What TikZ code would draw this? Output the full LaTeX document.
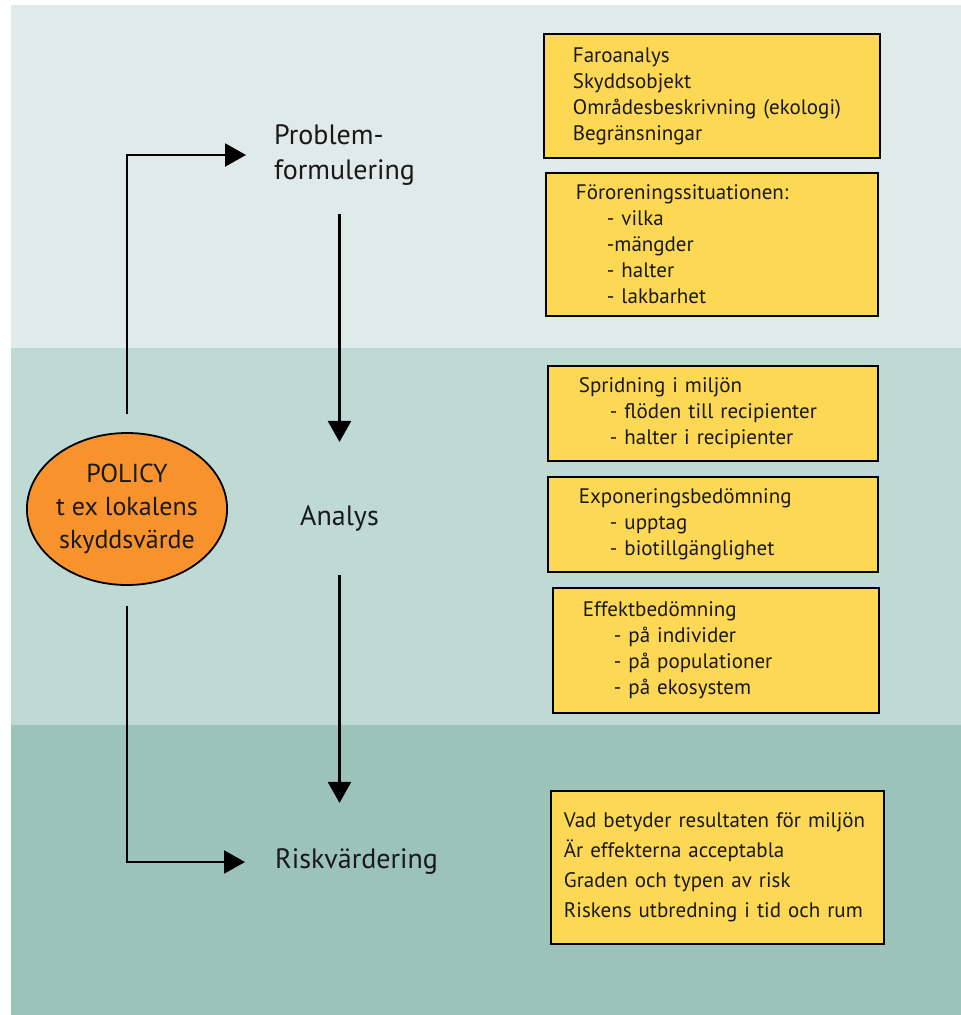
\documentclass[tikz,border=0pt]{standalone}
\usepackage{fontspec}
\setmainfont{PT Sans}
\usetikzlibrary{arrows.meta,shapes.geometric,positioning}

\definecolor{bandtop}{RGB}{223,234,233}
\definecolor{bandmid}{RGB}{191,218,213}
\definecolor{bandlow}{RGB}{156,195,186}
\definecolor{boxfill}{RGB}{253,216,84}
\definecolor{policyfill}{RGB}{247,146,45}
\definecolor{ink}{RGB}{25,25,25}
\newcommand{\dashitem}{\hspace*{31pt}}

\begin{document}
\begin{tikzpicture}[x=1pt,y=-1pt,
   infobox/.style={draw, fill=boxfill, line width=1.8pt, anchor=north west,
                   align=left, inner xsep=30pt, inner ysep=0pt, text=ink,
                   font=\fontsize{21}{26}\selectfont},
   stage/.style={anchor=west, align=left, inner sep=0pt, text=ink,
                 font=\fontsize{28}{35}\selectfont},
   flow/.style={line width=2.2pt, -{Triangle[length=21pt,width=23pt]}}]
   \useasboundingbox (0,0) rectangle (961,1015);
   \fill[white] (0,0) rectangle (961,1015);
   % bands
   \fill[bandtop] (11,5)   rectangle (961,348);
   \fill[bandmid] (11,348) rectangle (961,725);
   \fill[bandlow] (11,725) rectangle (961,1015);

   \node[stage] (prob) at (274,155) {Problem-\\formulering};
   \node[stage] (ana)  at (300,518) {Analys};
   \node[stage] (risk) at (275,862) {Riskvärdering};
   \node[ellipse, draw, fill=policyfill, line width=1.8pt, inner sep=0pt,
         minimum width=193pt, minimum height=152pt, align=center, text=ink,
         font=\fontsize{26}{33}\selectfont] (policy) at (127,509)
         {POLICY\\t ex lokalens\\skyddsvärde};

   \node[infobox, inner xsep=29pt, text width=278pt, minimum height=124pt] (faro) at (543,33)
      {Faroanalys\\Skyddsobjekt\\Områdesbeskrivning (ekologi)\\Begränsningar};
   \node[infobox, text width=272pt, minimum height=143pt] (fororen) at (545,172)
      {Föroreningssituationen:\\\dashitem- vilka\\\dashitem-mängder\\\dashitem- halter\\\dashitem- lakbarhet};
   \node[infobox, inner xsep=31pt, text width=268pt, minimum height=95pt] (sprid) at (547,365)
      {Spridning i miljön\\\dashitem- flöden till recipienter\\\dashitem- halter i recipienter};
   \node[infobox, inner xsep=31pt, text width=268pt, minimum height=95pt] (expo) at (547,476)
      {Exponeringsbedömning\\\dashitem- upptag\\\dashitem- biotillgänglighet};
   \node[infobox, text width=266pt, minimum height=125pt] (effekt) at (552,587)
      {Effektbedömning\\\dashitem- på individer\\\dashitem- på populationer\\\dashitem- på ekosystem};
   \node[infobox, inner xsep=13pt, text width=307pt, minimum height=153pt,
         font=\fontsize{21}{30}\selectfont] (betyd) at (550,790)
      {Vad betyder resultaten för miljön\\Är effekterna acceptabla\\Graden och typen av risk\\Riskens utbredning i tid och rum};

   \draw[flow, shorten <=18pt, shorten >=28pt] (policy.north) |- (prob.west);
   \draw[flow, shorten <=20pt, shorten >=30pt] (policy.south) |- (risk.west);
   \draw[flow, shorten <=28pt, shorten >=63pt] (ana.north |- prob.south) -- (ana.north);
   \draw[flow, shorten <=44pt, shorten >=46pt] (ana.south) -- (ana.south |- risk.north);
\end{tikzpicture}
\end{document}
